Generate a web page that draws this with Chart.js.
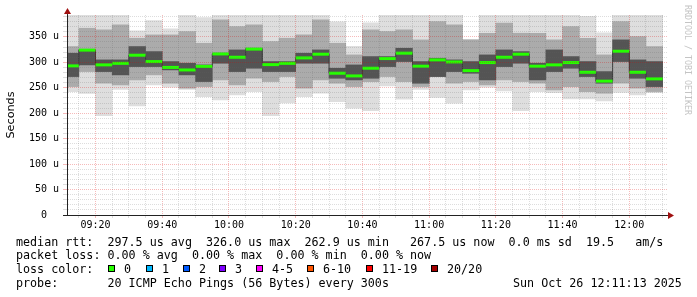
<!DOCTYPE html>
<html>
<head>
<meta charset="utf-8">
<script src="https://cdn.jsdelivr.net/npm/chart.js@4.4.1/dist/chart.umd.min.js"></script>
<style>
html,body{margin:0;padding:0;background:#fff;}
#wrap{position:relative;width:697px;height:297px;overflow:hidden;background:#fff;}
#c{position:absolute;left:0;top:0;}
.t{position:absolute;font-family:"DejaVu Sans Mono",monospace;font-size:11.7px;line-height:14px;white-space:pre;color:#000;}
.box{position:absolute;width:5px;height:5px;border:1px solid #000;top:265px;}
#wm{position:absolute;left:683px;top:5px;font-family:"DejaVu Sans Mono",monospace;font-size:8.3px;line-height:9px;color:#c4c4c4;writing-mode:vertical-rl;white-space:pre;}
</style>
</head>
<body>
<div id="wrap">
<canvas id="c" width="697" height="297"></canvas>
<div id="wm">RRDTOOL / TOBI OETIKER</div>
<div class="t" style="left:16px;top:235px">median rtt:  297.5 us avg  326.0 us max  262.9 us min   267.5 us now  0.0 ms sd  19.5   am/s</div>
<div class="t" style="left:16px;top:248px">packet loss: 0.00 % avg  0.00 % max  0.00 % min  0.00 % now</div>
<div class="t" style="left:16px;top:262px">loss color:</div>
<div id="lossLegend"></div>
<div class="t" style="left:16px;top:276px">probe:       20 ICMP Echo Pings (56 Bytes) every 300s</div>
<div class="t" style="left:513px;top:276px">Sun Oct 26 12:11:13 2025</div>
</div>
<script>
// ---- data ----
const stepEnds = ['09:15','09:20','09:25','09:30','09:35','09:40','09:45','09:50','09:55','10:00','10:05','10:10',
  '10:15','10:20','10:25','10:30','10:35','10:40','10:45','10:50','10:55','11:00','11:05','11:10',
  '11:15','11:20','11:25','11:30','11:35','11:40','11:45','11:50','11:55','12:00','12:05','12:10'];
const median = [293,324,295,298,314,301.5,290,285,292,316.5,310,326,295.5,298,308.7,316,278.6,273.3,
  288.4,307.4,318,292.4,304.8,300.8,283.7,299.5,310,316,292.4,295,299.5,280.5,263,321.8,280.5,267.5];
const smokeMax = [400,400,400,400,362,382,366,400,388,400,400,400,400,400,400,400,379.5,331.5,
  377.5,400,400,400,400,400,345,400,400,400,400,400,400,390.6,357.8,400,400,400];
const smokeMin = [242.5,239,195.3,247,214.3,255.6,251,247,232.7,226,236,242.5,195.3,220,232.7,239.2,222.8,209.7,
  205.1,253.6,227.5,247,231,219.6,245.8,251,244,205.1,242.5,240.5,228.1,228.1,224,241,236,240.5];
const midHi = [331,367,363.7,373.6,347.4,353.9,353.9,360.5,337.5,383.4,370.3,373.6,340.8,347.4,353.9,383.4,337.5,314.6,
  363.7,360.5,363.7,344.1,380.1,373.6,344.1,357.2,376.9,357.2,357.2,344.1,370.3,347.4,314.6,380.1,350.6,331];
const midLo = [252.3,281.8,258.9,255.6,265.4,275.3,258.9,249,252.3,265.4,255.6,268.7,262.2,272,249,265.4,258.9,252.3,
  262.2,272,262.2,252.3,272,258.9,262.2,255.6,265.4,262.2,258.9,245.8,252.3,242.5,239.2,258.9,249,242.5];
const darkHi = [317.9,324.4,304.8,304.8,331,321.1,301.5,298.2,294.9,317.9,324.4,327.7,301.5,301.5,317.9,324.4,288.4,294.9,
  311.3,311.3,327.7,301.5,308,304.8,301.5,314.6,324.4,321.1,298.2,324.4,311.3,301.5,281.8,344.1,304.8,301.5];
const darkLo = [272,294.9,281.8,275.3,291.6,291.6,285.1,275.3,262.2,298.2,281.8,288.4,281.8,281.8,298.2,298.2,268.7,265.4,
  268.7,291.6,301.5,258.9,272,281.8,278.5,265.4,291.6,298.2,265.4,281.8,288.4,272,258.9,301.5,268.7,252.3];
const xTickLabels = ['09:20','09:40','10:00','10:20','10:40','11:00','11:20','11:40','12:00'];
const yTickLabels = ['0  ','50 u','100 u','150 u','200 u','250 u','300 u','350 u'];
const lossLabels = ['0','1','2','3','4-5','6-10','11-19','20/20'];
const lossColors = ['#26ff00','#00b8ff','#0059ff','#7e00ff','#ff00ff','#ff5500','#ff0000','#a10000'];
const viewStart = '09:11:27', viewEnd = '12:11:36';
const yMax = 393;

// ---- helpers ----
const toMin = s => { const p = s.split(':').map(Number); return p[0]*60 + p[1] + (p[2]||0)/60; };
const fmt = v => { const h = Math.floor(v/60), m = Math.round(v%60); return String(h).padStart(2,'0')+':'+String(m).padStart(2,'0'); };
const centers = stepEnds.map(t => toMin(t) - 2.5);
const band = (lo, hi) => centers.map((x, i) => ({x, y: [lo[i], hi[i]]}));
const medPts = centers.map((x, i) => ({x, y: median[i]}));
const halfStep = ctx => { const s = ctx.chart.scales.x; return Math.abs(s.getPixelForValue(5) - s.getPixelForValue(0)) / 2; };

const majorGrid = 'rgba(220,0,0,0.27)';
const minorGrid = 'rgba(100,100,100,0.22)';
const mono = 'DejaVu Sans Mono';

// loss legend (real text)
const boxX = [108, 146, 183, 219, 256, 307, 366, 431];
const lg = document.getElementById('lossLegend');
lossLabels.forEach((l, i) => {
  const b = document.createElement('div'); b.className = 'box';
  b.style.left = boxX[i] + 'px'; b.style.background = lossColors[i]; lg.appendChild(b);
  const t = document.createElement('div'); t.className = 't';
  t.style.left = (boxX[i] + 16) + 'px'; t.style.top = '262px'; t.textContent = l; lg.appendChild(t);
});

const arrows = {
  id: 'arrows',
  afterDraw(chart) {
    const {ctx, chartArea: a} = chart;
    ctx.save();
    ctx.strokeStyle = '#333'; ctx.lineWidth = 1;
    ctx.beginPath();
    ctx.moveTo(a.left + 0.5, a.top); ctx.lineTo(a.left + 0.5, a.top - 3);
    ctx.moveTo(a.right - 1, a.bottom + 0.5); ctx.lineTo(a.right + 1, a.bottom + 0.5);
    ctx.stroke();
    ctx.fillStyle = '#a01010';
    ctx.beginPath();
    ctx.moveTo(a.left + 0.5, a.top - 7); ctx.lineTo(a.left - 3, a.top - 1); ctx.lineTo(a.left + 4, a.top - 1);
    ctx.closePath(); ctx.fill();
    ctx.beginPath();
    ctx.moveTo(a.right + 6, a.bottom + 0.5); ctx.lineTo(a.right, a.bottom - 3); ctx.lineTo(a.right, a.bottom + 4);
    ctx.closePath(); ctx.fill();
    ctx.restore();
  }
};

const barCommon = {type: 'bar', barPercentage: 1, categoryPercentage: 1, grouped: false, borderWidth: 0, clip: 0};

new Chart(document.getElementById('c'), {
  type: 'bar',
  data: {
    datasets: [
      {type: 'scatter', data: medPts, showLine: false, pointStyle: 'line', pointRadius: halfStep, pointHoverRadius: halfStep,
       pointBorderWidth: 3, pointBorderColor: lossColors[0], pointBackgroundColor: lossColors[0], borderColor: lossColors[0], clip: 0, order: 0},
      {type: 'line', data: medPts, stepped: 'middle', borderColor: '#3a3a3a', borderWidth: 1, pointRadius: 0, fill: false, clip: 0, order: 1},
      Object.assign({data: band(darkLo, darkHi), backgroundColor: '#545454', order: 2}, barCommon),
      Object.assign({data: band(midLo, midHi), backgroundColor: '#ababab', order: 3}, barCommon),
      Object.assign({data: band(smokeMin, smokeMax), backgroundColor: '#dedede', order: 4}, barCommon)
    ]
  },
  options: {
    responsive: false,
    animation: false,
    events: [],
    layout: {padding: {left: 0, top: 15, right: 29, bottom: 0}},
    plugins: {legend: {display: false}, tooltip: {enabled: false}},
    scales: {
      x: {
        type: 'linear', min: toMin(viewStart), max: toMin(viewEnd), offset: false,
        ticks: {stepSize: 5, autoSkip: false, includeBounds: false, maxRotation: 0, minRotation: 0, padding: 1,
          color: '#000', font: {family: mono, size: 10},
          callback: v => { const s = fmt(v); return (v % 20 === 0 && xTickLabels.includes(s)) ? s : ''; }},
        grid: {offset: false, z: 1, lineWidth: 1, drawTicks: true, tickLength: 3,
          color: c => (c.tick && c.tick.value % 20 === 0) ? majorGrid : minorGrid,
          tickColor: c => (c.tick && c.tick.value % 20 === 0) ? majorGrid : minorGrid, tickBorderDash: []},
        border: {display: true, color: '#222', width: 1, dash: [1, 1], z: 2},
        afterFit: s => { s.height = 82; }
      },
      y: {
        type: 'linear', min: 0, max: yMax,
        ticks: {stepSize: 10, autoSkip: false, includeBounds: false, padding: 4, color: '#000', font: {family: mono, size: 10},
          callback: v => (v % 50 === 0) ? yTickLabels[v / 50] : ''},
        grid: {z: 1, lineWidth: 1, drawTicks: true, tickLength: 4,
          color: c => (c.tick && c.tick.value % 50 === 0) ? majorGrid : minorGrid,
          tickColor: c => (c.tick && c.tick.value === 0) ? '#222' : ((c.tick && c.tick.value % 50 === 0) ? majorGrid : minorGrid), tickBorderDash: []},
        border: {display: true, color: '#222', width: 1, dash: [1, 1], z: 2},
        title: {display: true, text: 'Seconds', color: '#000', font: {family: 'DejaVu Sans', size: 11.2}, padding: {top: 4, bottom: 0}},
        afterFit: s => { s.width = 67; }
      }
    }
  },
  plugins: [arrows]
});
</script>
</body>
</html>
